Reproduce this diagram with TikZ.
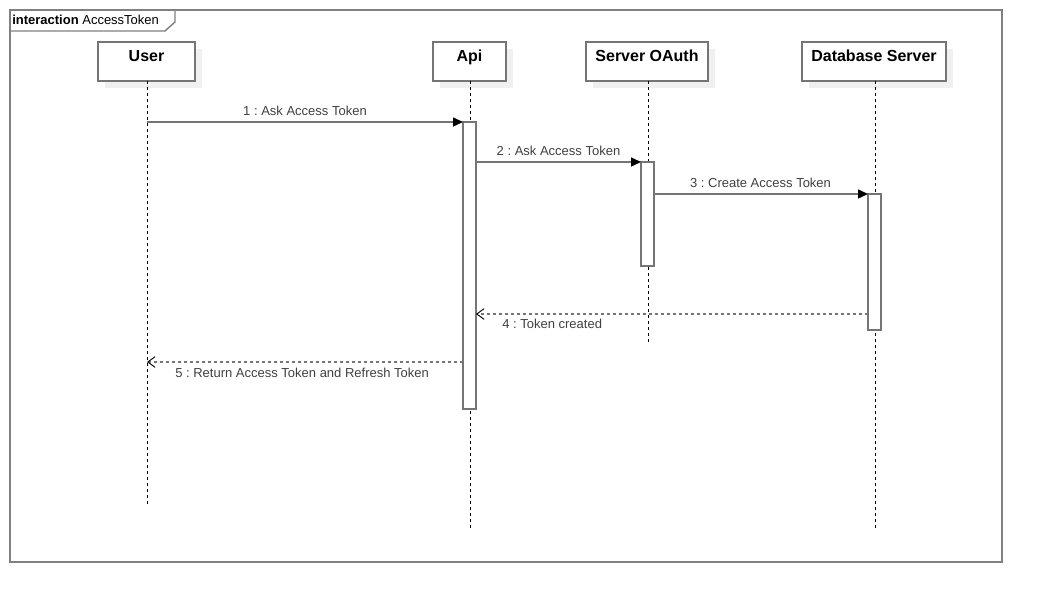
\documentclass[tikz,border=0pt]{standalone}
\usepackage{fontspec}
\setmainfont{Liberation Sans}
\usetikzlibrary{arrows.meta,shadows}
\definecolor{ln}{HTML}{757575}
\definecolor{fr}{HTML}{808080}
\definecolor{tx}{HTML}{404040}
\definecolor{sh}{HTML}{F0F0F0}
\frenchspacing
\begin{document}
\begin{tikzpicture}[x=0.75pt,y=-0.75pt,
  pbox/.style={draw=ln, line width=1.1pt, fill=white, rectangle, inner sep=0pt, outer sep=0pt,
    minimum height=29.25pt,
    drop shadow={shadow xshift=5.25pt, shadow yshift=-5.25pt, fill=sh, opacity=1}},
  pname/.style={font=\bfseries\fontsize{12pt}{14pt}\selectfont, text=black, inner sep=0pt, anchor=base},
  actbar/.style={draw=ln, line width=1.1pt, fill=white, rectangle, minimum width=9.75pt, inner sep=0pt, outer sep=0pt},
  life/.style={black, line width=0.75pt, dash pattern=on 2.25pt off 2.25pt},
  msg/.style={draw=ln, line width=1.1pt, -{Triangle[length=7.5pt,width=6.75pt,color=black]}},
  ret/.style={draw=ln, line width=1.1pt, dash pattern=on 2.25pt off 2.25pt,
    -{Straight Barb[length=5.5pt,width=8pt,color=black,line width=0.7pt]}},
  mlabel/.style={font=\fontsize{9.75pt}{12pt}\selectfont, text=tx, inner sep=0pt, anchor=base},
]
\useasboundingbox (0,0) rectangle (1042,602);
% frame
\draw[fr, line width=1.1pt] (10,10) rectangle (1002,562);
\draw[fr, line width=1.1pt] (10,31) -- (165,31) -- (175,22) -- (175,10);
\node[anchor=base west, inner sep=0pt, font=\fontsize{9.75pt}{12pt}\selectfont] (frameL) at (12,25) {\textbf{interaction} AccessToken};
% participants
\node[pbox, minimum width=72.75pt] (user) at (146.5,61.5) {};
\node[pbox, minimum width=54.75pt] (api) at (469.5,61.5) {};
\node[pbox, minimum width=91.5pt] (oa) at (647,61.5) {};
\node[pbox, minimum width=108pt] (db) at (874,61.5) {};
\node[pname] (userN) at (146.5,62) {User};
\node[pname] (apiN) at (469.5,62) {Api};
\node[pname] (oaN) at (647,62) {Server OAuth};
\node[pname] (dbN) at (874,62) {Database Server};
% lifeline ends
\coordinate (userEnd) at (147,504);
\coordinate (apiEnd) at (470,528);
\coordinate (oaEnd) at (648.5,343);
\coordinate (dbEnd) at (875,528);
\draw[life] (user.south -| userEnd) -- (userEnd);
\draw[life] (api.south -| apiEnd) -- (apiEnd);
\draw[life] (oa.south -| oaEnd) -- (oaEnd);
\draw[life] (db.south -| dbEnd) -- (dbEnd);
% activation bars
\node[actbar, minimum height=215.25pt] (apiBar) at (469.5,265.5) {};
\node[actbar, minimum height=78pt] (oaBar) at (647.5,214) {};
\node[actbar, minimum height=102pt] (dbBar) at (874.5,262) {};
% messages
\coordinate (m1) at (147,122);
\draw[msg] (m1 -| user.south) -- (m1 -| apiBar.west);
\node[mlabel] (l1) at (305,116) {1 : Ask Access Token};
\draw[msg] (apiBar.east |- oaBar.north) -- (oaBar.north west);
\node[mlabel] (l2) at (558.5,156) {2 : Ask Access Token};
\draw[msg] (oaBar.east |- dbBar.north) -- (dbBar.north west);
\node[mlabel] (l3) at (760.5,188) {3 : Create Access Token};
\coordinate (m4) at (875,314);
\draw[ret] (dbBar.west |- m4) -- (apiBar.east |- m4);
\node[mlabel, anchor=base west] (l4) at (502,328) {4 : Token created};
\coordinate (m5) at (147,362);
\draw[ret] (apiBar.west |- m5) -- (m5);
\node[mlabel, anchor=base west] (l5) at (175,377) {5 : Return Access Token and Refresh Token};
\end{tikzpicture}
\end{document}
